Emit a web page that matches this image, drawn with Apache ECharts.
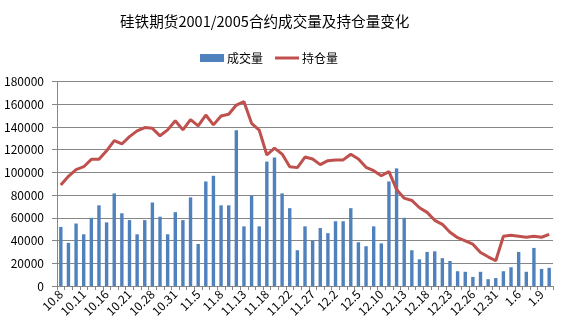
<!DOCTYPE html>
<html>
<head>
<meta charset="utf-8">
<script src="https://cdn.jsdelivr.net/npm/echarts@6/dist/echarts.min.js"></script>
<style>
  html, body { margin: 0; padding: 0; background: #fff; }
  #chart { width: 569px; height: 332px; }
</style>
</head>
<body>
<div id="chart"></div>
<script>
// Trading dates (month.day), Oct 2019 – Jan 2020
const dates = [
  '10.8','10.9','10.10','10.11','10.14','10.15','10.16','10.17','10.18','10.21',
  '10.23','10.25','10.28','10.29','10.30','10.31','11.1','11.4','11.5','11.6',
  '11.7','11.8','11.11','11.12','11.13','11.14','11.15','11.18','11.20','11.21',
  '11.22','11.25','11.26','11.27','11.28','11.29','12.2','12.3','12.4','12.5',
  '12.6','12.9','12.10','12.11','12.12','12.13','12.16','12.17','12.18','12.19',
  '12.20','12.23','12.24','12.25','12.26','12.27','12.30','12.31','1.2','1.3',
  '1.6','1.7','1.8','1.9','1.10'
];

// 成交量 (trading volume)
const volume = [
  52000, 38000, 55000, 45500, 60000, 71000, 56000, 81500, 64000, 58000,
  45500, 58000, 73500, 61000, 45500, 65000, 58000, 78000, 37000, 92000,
  97000, 71000, 71000, 137000, 52500, 79500, 52500, 109500, 113000, 81500,
  68500, 31500, 52500, 40000, 51000, 46500, 57000, 57000, 68500, 38500,
  35000, 52500, 37500, 92000, 103500, 60000, 31500, 23500, 30000, 30500,
  24500, 22000, 13000, 12500, 8000, 12500, 6000, 7000, 13000, 16500,
  30000, 12500, 33500, 15000, 16000
];

// 持仓量 (open interest)
const openInterest = [
  89000, 96500, 102500, 105000, 111500, 111500, 119000, 128000, 125000, 131500,
  136500, 139500, 138800, 132200, 137400, 145500, 137400, 146500, 141000, 150500,
  141800, 149700, 151200, 159300, 162200, 143200, 137300, 115300, 121400, 116100,
  105000, 104200, 113500, 111800, 106800, 110300, 111000, 111000, 116000, 111800,
  104500, 101500, 97000, 100700, 85000, 77300, 75300, 68900, 64800, 57800,
  54300, 47300, 42500, 39700, 36800, 29500, 25700, 22200, 43800, 44600,
  43800, 42900, 43800, 42900, 45500
];

const BLUE = '#4F81BD';
const RED = '#C0504D';
const GRID_GRAY = '#868686';
const FONT = '"Noto Sans CJK SC", "Noto Sans", sans-serif';

const chart = echarts.init(document.getElementById('chart'), null, { renderer: 'canvas' });

chart.setOption({
  animation: false,
  backgroundColor: '#fff',
  title: {
    text: '硅铁期货2001/2005合约成交量及持仓量变化',
    left: 115,
    top: 9,
    textStyle: { fontFamily: FONT, fontSize: 14.6, fontWeight: 'normal', color: '#000' }
  },
  legend: {
    left: 195,
    top: 47,
    itemGap: 12,
    itemWidth: 24,
    itemHeight: 8,
    textStyle: { fontFamily: FONT, fontSize: 12, color: '#000', padding: [0, 0, 0, -2] },
    data: [
      { name: '成交量', icon: 'rect' },
      { name: '持仓量', icon: 'path://M0,0L24,0L24,3L0,3Z' }
    ]
  },
  grid: { left: 57, right: 16, top: 81.5, bottom: 46, containLabel: false },
  xAxis: {
    type: 'category',
    data: dates,
    boundaryGap: true,
    axisLine: { show: true, lineStyle: { color: GRID_GRAY, width: 1 } },
    axisTick: { show: true, interval: 0, length: 4, lineStyle: { color: GRID_GRAY } },
    axisLabel: {
      interval: 2,
      rotate: 45,
      margin: 6,
      fontFamily: FONT,
      fontSize: 12,
      color: '#000'
    },
    splitLine: { show: false }
  },
  yAxis: {
    type: 'value',
    min: 0,
    max: 180000,
    interval: 20000,
    axisLine: { show: true, lineStyle: { color: GRID_GRAY, width: 1 } },
    axisTick: { show: true, length: 5, lineStyle: { color: GRID_GRAY } },
    axisLabel: {
      margin: 13,
      fontFamily: FONT,
      fontSize: 12,
      color: '#000',
      formatter: (v) => String(v)
    },
    splitLine: { show: true, lineStyle: { color: GRID_GRAY, width: 1 } }
  },
  series: [
    {
      name: '成交量',
      type: 'bar',
      data: volume,
      barWidth: 3.4,
      itemStyle: { color: BLUE }
    },
    {
      name: '持仓量',
      type: 'line',
      data: openInterest,
      symbol: 'none',
      smooth: false,
      lineStyle: { color: RED, width: 3 },
      itemStyle: { color: RED }
    }
  ]
});
</script>
</body>
</html>
